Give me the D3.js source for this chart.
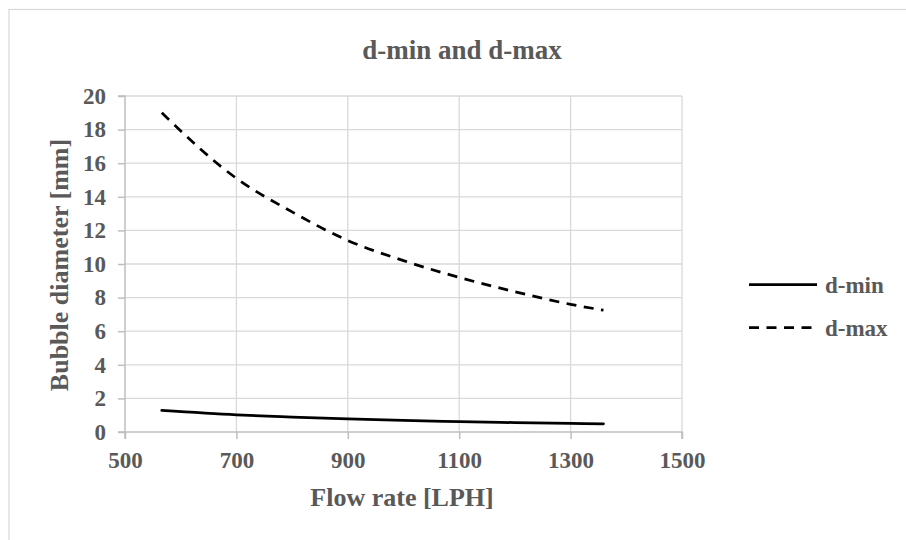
<!DOCTYPE html>
<html>
<head>
<meta charset="utf-8">
<script src="https://cdn.jsdelivr.net/npm/d3@7"></script>
<style>
  html, body { margin: 0; padding: 0; background: #ffffff; }
  svg { display: block; }
</style>
</head>
<body>
<svg id="chart" width="906" height="540"></svg>
<script>
// Flow rate (LPH) and bubble diameters (mm)
const flowRate = [566, 700, 800, 900, 1000, 1100, 1200, 1300, 1359];
const dMin = [1.28, 1.02, 0.89, 0.78, 0.69, 0.62, 0.56, 0.51, 0.49];
const dMax = [19.0, 15.1, 13.1, 11.4, 10.2, 9.2, 8.35, 7.6, 7.25];
const xTicks = [500, 700, 900, 1100, 1300, 1500];
const yTicks = [0, 2, 4, 6, 8, 10, 12, 14, 16, 18, 20];
const seriesNames = ["d-min", "d-max"];

const FONT = "'Liberation Serif', 'Times New Roman', serif";
const INK = "#595959";

const svg = d3.select("#chart");
const W = 906, H = 540;
const plot = { left: 125, right: 682, top: 96, bottom: 432 };

function styleText(sel, size) {
  return sel.attr("font-family", FONT).attr("font-weight", "bold")
    .attr("font-size", size).attr("fill", INK);
}

// chart frame
svg.append("rect")
  .attr("x", 9).attr("y", 9.5)
  .attr("width", W + 10).attr("height", H + 10)
  .attr("fill", "#ffffff")
  .attr("stroke", "#d9d9d9").attr("stroke-width", 1.2);

const x = d3.scaleLinear().domain([500, 1500]).range([plot.left, plot.right]);
const y = d3.scaleLinear().domain([0, 20]).range([plot.bottom, plot.top]);

// gridlines
svg.append("g").selectAll("line").data(yTicks.filter(v => v > 0)).join("line")
  .attr("x1", plot.left).attr("x2", plot.right)
  .attr("y1", d => y(d)).attr("y2", d => y(d))
  .attr("stroke", "#d9d9d9").attr("stroke-width", 1.3);
svg.append("g").selectAll("line").data(xTicks.filter(v => v > 500)).join("line")
  .attr("y1", plot.top).attr("y2", plot.bottom)
  .attr("x1", d => x(d)).attr("x2", d => x(d))
  .attr("stroke", "#d9d9d9").attr("stroke-width", 1.3);

// axes
const xAxis = svg.append("g")
  .attr("transform", `translate(0,${plot.bottom})`)
  .call(d3.axisBottom(x).tickValues(xTicks).tickSize(7).tickPadding(13).tickFormat(d3.format("d")));
const yAxis = svg.append("g")
  .attr("transform", `translate(${plot.left},0)`)
  .call(d3.axisLeft(y).tickValues(yTicks).tickSize(7).tickPadding(12).tickFormat(d3.format("d")));
[xAxis, yAxis].forEach(g => {
  g.attr("font-family", FONT);
  g.select(".domain").attr("stroke", "#bfbfbf").attr("stroke-width", 1.5);
  g.selectAll(".tick line").attr("stroke", "#bfbfbf").attr("stroke-width", 1.5);
  styleText(g.selectAll(".tick text"), 23);
});
xAxis.select(".domain").attr("d", `M${plot.left},7V0H${plot.right}V7`);
yAxis.select(".domain").attr("d", `M-7,${plot.bottom}H0V${plot.top}H-7`);

// series lines
const line = d3.line().x((d, i) => x(flowRate[i])).y(d => y(d)).curve(d3.curveMonotoneX);
svg.append("path").datum(dMin)
  .attr("d", line).attr("fill", "none")
  .attr("stroke", "#000000").attr("stroke-width", 2.75).attr("stroke-linecap", "round");
svg.append("path").datum(dMax)
  .attr("d", line).attr("fill", "none")
  .attr("stroke", "#000000").attr("stroke-width", 2.75)
  .attr("stroke-dasharray", "10,7.5");

// title
styleText(svg.append("text"), 27)
  .attr("x", 462).attr("y", 59)
  .attr("text-anchor", "middle")
  .text("d-min and d-max");

// axis titles
styleText(svg.append("text"), 26)
  .attr("x", 402).attr("y", 506)
  .attr("text-anchor", "middle")
  .text("Flow rate [LPH]");
styleText(svg.append("text"), 26)
  .attr("transform", `translate(68,265) rotate(-90)`)
  .attr("text-anchor", "middle")
  .text("Bubble diameter [mm]");

// legend
const legend = svg.append("g");
const legendY = [284.5, 327.5];
seriesNames.forEach((name, i) => {
  legend.append("line")
    .attr("x1", 749).attr("x2", i === 0 ? 817 : 813)
    .attr("y1", legendY[i]).attr("y2", legendY[i])
    .attr("stroke", "#000").attr("stroke-width", 2.75)
    .attr("stroke-dasharray", i === 0 ? null : "10,7.5");
  styleText(legend.append("text"), 23)
    .attr("x", 825).attr("y", legendY[i] + 8)
    .text(name);
});
</script>
</body>
</html>
